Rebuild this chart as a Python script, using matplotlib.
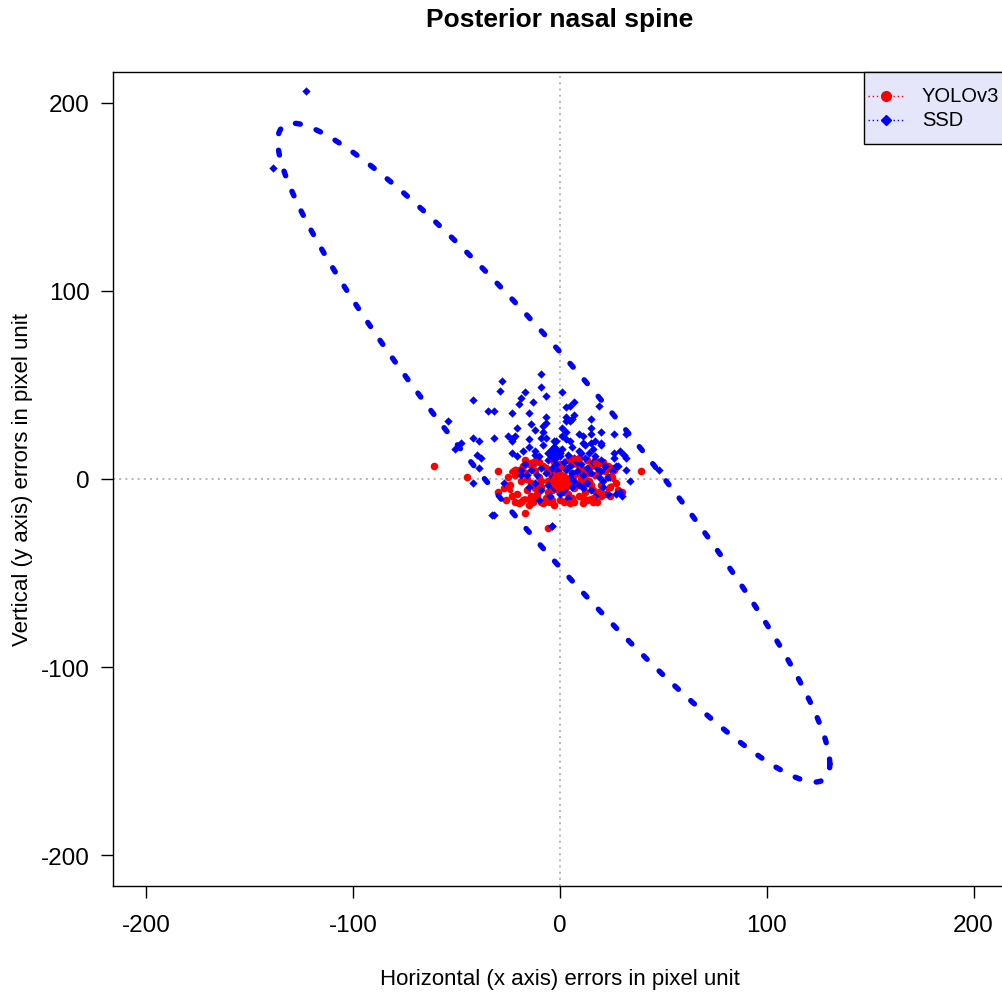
import numpy as np
import matplotlib
matplotlib.use("Agg")
import matplotlib.pyplot as plt
from matplotlib.lines import Line2D
from matplotlib.patches import Rectangle

plt.rcParams['font.family'] = ['Liberation Sans', 'DejaVu Sans']

TITLE = "Posterior nasal spine"
XLABEL = "Horizontal (x axis) errors in pixel unit"
YLABEL = "Vertical (y axis) errors in pixel unit"
SERIES = ["YOLOv3", "SSD"]
TICKS = [-200, -100, 0, 100, 200]

# YOLOv3 errors (x, y)
yolo_x = [-61, -45, 39, -30, -30, -17, -6, 30, -11, -13, -24, -22, -21, -20, -19, -18, -17, -16,
          -15, -14, -13, -12, -11, -10, -9, -8, -7, -6, -5, -4, -3, -2, -1, 0, 1, 2, 3, 4, 5, 6,
          7, 8, 9, 10, 11, 12, 13, 14, 15, 16, 17, 18, 19, 20, 21, 22, 23, 24, 25, 27, -23, -20,
          -18, -16, -14, -12, -10, -8, -6, -4, -2, 0, 2, 4, 6, 8, 10, 12, 14, 16, 18, 20, 22, -11,
          -3, 5, 13, -7, -9, 3, 7, 11, -1, 1, -5, 9, -15, -26, -22, -19, -13, -9, 2, 7, 11, 16, 19,
          24, 28, 26, 23, 17, 9, -17, -25, -27, 1, -3, 4, -6, 12, 6, -10, 15]
yolo_y = [7, 1, 4, 4, -7, -18, -26, -7, -10, 8, -3, 2, -8, 5, -1, -11, 3, -6, 8, -2, -12, 4, -8,
          1, -4, 7, -10, -1, 3, -6, 9, -3, 5, -11, 1, -7, 6, -2, -13, 3, -5, 8, -9, 0, -3, 5, -11,
          -1, 7, -6, 2, -12, 4, -3, 9, -8, 1, -4, 6, -2, -9, -13, 7, 0, -9, -5, 9, -13, 5, -11, 2,
          8, -1, 10, -10, -3, 6, -7, 3, -12, 9, -9, 4, 11, -14, 11, 10, 6, -1, -4, 2, -10, -6, -3,
          -2, 3, -14, -11, -12, -12, -10, -12, -12, -12, -13, -11, -7, -9, -6, 5, 7, 10, 11, 10, 1,
          -5, 7, 3, -8, -7, 0, 8, -4, -3]

# SSD errors (x, y)
ssd_x = [-123, -139, -54, -51, -28, -29, -17, -19, -20, -13, -42, -35, -32, -23, -15, -14, -21,
         -12, -42, -39, -32, -25, -23, -22, -15, -48, -9, -9, -7, 1, 7, 5, 3, 19, 15, 7, 3, 3, 5,
         6, -7, -7, -8, 15, 20, 26, 32, 9, 11, 15, 17, 20, 1, 3, 1, -8, -9, -3, 5, 11, 15, 26, 27,
         32, 29, 34, 29, 30, 27, 23, 20, 16, 48, 25, 22, -40, -38, -39, -42, -32, -4, -27, -23, -21,
         -23, -18, -15, -12, -19, -16, -33, -4, 31, 26, 28, 32, 20, 23, 21,
         -12, -10, -8, -6, -5, -3, -2, 0, 1, 2, 3, 4, 5, 6, 7, 8, 9, 10, 11, 12, 13, 14, 15, 16,
         17, 18, 19, 20, -14, -13, -11, -9, -7, -4, -1, 1, 3, 5, 7, 9, 11, 13, -6, -9, -12, -3, 0,
         2, 4, -5, -10, 6, 8, 10, -2, -7, 12, 3, -4, 6, 0, -1, 15, 17, -15, -17, -19, 22, 24, 21]
ssd_y = [206, 165, 31, 16, 52, 47, 46, 43, 40, 41, 42, 36, 36, 35, 35, 29, 27, 26, 22, 20, 22,
         23, 21, 23, 21, 19, 56, 49, 44, 46, 41, 39, 38, 39, 32, 34, 33, 31, 31, 32, 33, 30, 28,
         27, 25, 24, 24, 24, 23, 24, 20, 19, 27, 25, 23, 25, 22, 20, 20, 19, 19, 11, 7, 11, 15, -1,
         -7, -9, -8, -8, 18, 16, 5, 4, 7, 13, 11, 6, -2, -19, -25, -2, 14, 12, 20, 15, 17, 13, 5,
         2, -19, -25, 13, 14, 7, 5, 4, 1, -1,
         15, 12, 18, 10, 14, 17, 8, 12, 16, 9, 5, 13, 7, 17, 11, 4, 15, 8, 2, 11, 6, 14, 3, 9, 12,
         6, 1, 10, 5, 9, 2, 6, 3, 1, 4, 0, -2, 1, -1, -3, -5, -2, -3, -6, -2, -5, -8, -6, -10, -9,
         -11, -4, 9, 14, 20, 22, 18, 21, 6, 3, 2, -1, -6, -9, -4, 8, 2, 7, 1, -4]

# Centres of the error distributions and their confidence ellipses
centre_x = [0, -3]
centre_y = [-1, 14]
half_width = [26, 133.5]
half_height = [12, 175]
correlation = [0.05, -0.945]

colors = ["#FF0000", "#0000FF"]

fig = plt.figure(figsize=(10.02, 9.95), dpi=100)
W, H = 1002, 995
ax_l, ax_r, ax_t, ax_b = 113.4, 1006.6, 73.4, 886.6
ax = fig.add_axes([ax_l / W, 1 - ax_b / H, (ax_r - ax_l) / W, (ax_b - ax_t) / H])
ax.set_xlim(-216, 216)
ax.set_ylim(-216, 216)

ax.axhline(0, color="#AAAAAA", lw=1.2, ls=(0, (1.2, 2.5)), zorder=1)
ax.axvline(0, color="#AAAAAA", lw=1.2, ls=(0, (1.2, 2.5)), zorder=1)

ax.scatter(yolo_x, yolo_y, s=30, marker="o", color=colors[0], linewidths=0, zorder=3)
ax.scatter(ssd_x, ssd_y, s=18, marker="D", color=colors[1], linewidths=0, zorder=4)

t = np.linspace(0, 2 * np.pi, 400)
for i in range(2):
    ex = centre_x[i] + half_width[i] * np.cos(t)
    ey = centre_y[i] + half_height[i] * (correlation[i] * np.cos(t)
                                          + np.sqrt(1 - correlation[i] ** 2) * np.sin(t))
    ax.plot(ex, ey, color=colors[i], lw=3.9, ls=(0, (0.9, 3.1)),
            dash_capstyle="round", solid_capstyle="round", zorder=5)

ax.scatter([centre_x[0]], [centre_y[0]], s=200, marker="o", color=colors[0], linewidths=0, zorder=6)
ax.scatter([centre_x[1]], [centre_y[1]], s=110, marker="D", color=colors[1], linewidths=0, zorder=6)

ax.set_xticks(TICKS)
ax.set_yticks(TICKS)
ax.set_xticklabels([str(v) for v in TICKS])
ax.set_yticklabels([str(v) for v in TICKS])
ax.tick_params(axis="both", direction="out", length=8.6, width=1.0, labelsize=17.5)
ax.tick_params(axis="x", pad=11.5)
ax.tick_params(axis="y", pad=8.5)
for s in ax.spines.values():
    s.set_linewidth(1.0)
    s.set_color("black")

fig.text(560 / W, 1 - 20 / H, TITLE, ha="center", va="center", fontsize=19, fontweight="bold")
fig.text(560 / W, 1 - 980 / H, XLABEL, ha="center", va="center", fontsize=16)
fig.text(23 / W, 1 - 480 / H, YLABEL, ha="center", va="center", fontsize=16, rotation=90)

# Legend drawn in figure pixel coordinates (top right, partly cut by the figure edge)
def fx(px):
    return px / W

def fy(py):
    return 1 - py / H

fig.patches.append(Rectangle((fx(863.5), fy(145)), fx(1012) - fx(863.5), fy(73.4) - fy(145),
                             transform=fig.transFigure, facecolor="#E6E6FA",
                             edgecolor="black", lw=1.0, zorder=10))
rows = [97, 121]
marks = ["o", "D"]
msizes = [7, 5.5]
for i in range(2):
    fig.add_artist(Line2D([fx(868), fx(905)], [fy(rows[i]), fy(rows[i])],
                          transform=fig.transFigure, color=colors[i], lw=1.0,
                          ls=(0, (1, 2)), zorder=11))
    fig.add_artist(Line2D([fx(886)], [fy(rows[i])], transform=fig.transFigure,
                          color=colors[i], marker=marks[i], markersize=msizes[i],
                          ls="none", zorder=12))
    fig.text(fx(922), fy(rows[i]), SERIES[i], ha="left", va="center", fontsize=14.5, zorder=12)

fig.savefig("out.png", dpi=100)
